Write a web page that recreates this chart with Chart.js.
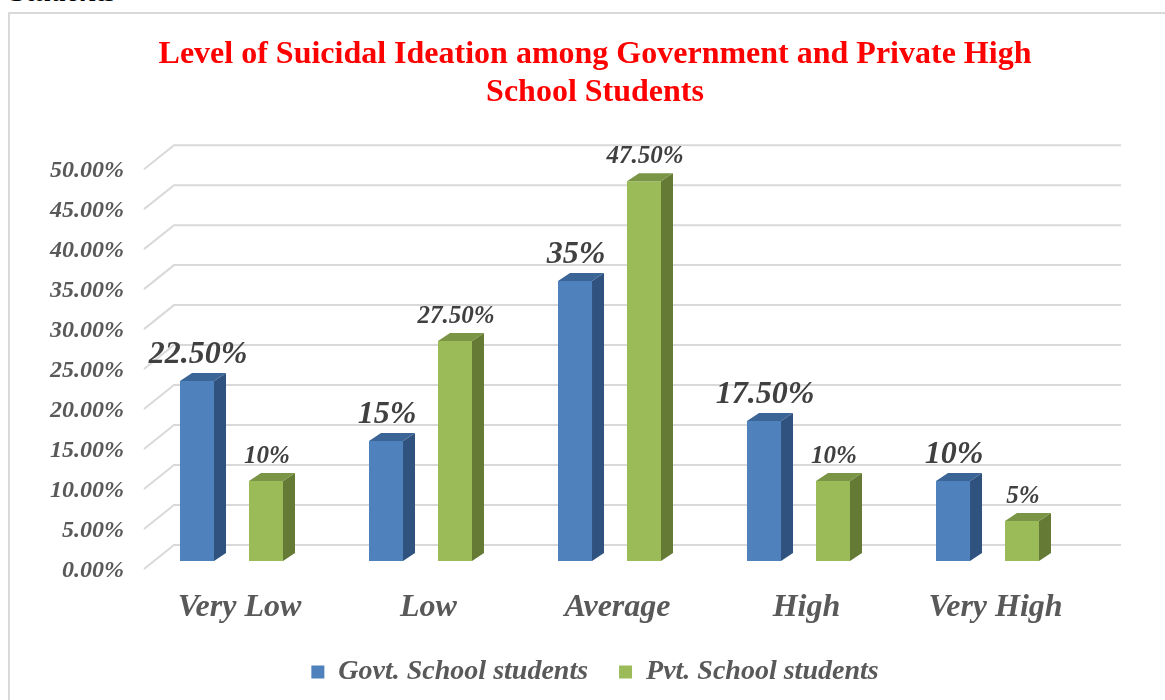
<!DOCTYPE html>
<html>
    <head>
        <meta charset="utf-8">
        <title>Level of Suicidal Ideation</title>
        <script src="https://cdn.jsdelivr.net/npm/chart.js@4.4.1/dist/chart.umd.min.js"></script>
        <style>
            body { margin: 0; background: #fff; overflow: hidden; }
            #wrap { position: relative; width: 1165px; height: 700px; overflow: hidden; }
            #frame { position: absolute; left: 8px; top: 12px; width: 1200px; height: 800px;
                     border-top: 2px solid #D9D9D9; border-left: 2px solid #D9D9D9; }
            #cut { position: absolute; left: 10px; top: -26px; font: italic bold 30px "Liberation Serif"; color: #000; }
            #canvas { position: absolute; left: 0; top: 0; }
        </style>
    </head>
    <body>
        <div id="wrap">
            <div id="cut">Students</div>
            <div id="frame"></div>
            <canvas id="canvas" width="1165" height="700"></canvas>
        </div>

<script>
// data
var levels = ['Very Low', 'Low', 'Average', 'High', 'Very High'];
var govtValues = [22.5, 15, 35, 17.5, 10];
var pvtValues = [10, 27.5, 47.5, 10, 5];
var govtLabels = ['22.50%', '15%', '35%', '17.50%', '10%'];
var pvtLabels = ['10%', '27.50%', '47.50%', '10%', '5%'];
var titleLines = ['Level of Suicidal Ideation among Government and Private High', 'School Students'];

var FONT = 'Liberation Serif';
var DX = 12, DY = 8;   // bar depth

// floor + back wall gridlines, drawn in fake 3d
var gridPlugin = {
    id: 'grid3d',
    beforeDatasetsDraw: function(chart) {
        var ctx = chart.ctx, ys = chart.scales.y, area = chart.chartArea;
        ctx.save();
        ctx.strokeStyle = '#D9D9D9';
        ctx.lineWidth = 2;
        ys.ticks.forEach(function(t) {
            var y = ys.getPixelForValue(t.value);
            ctx.beginPath();
            ctx.moveTo(area.left + 7, y + 8);
            ctx.lineTo(area.left + 37, y - 16);
            ctx.lineTo(area.right + 39, y - 16);
            ctx.stroke();
        });
        ctx.restore();
    }
};

var sides = ['#30527F', '#657A34'];
var tops = ['#3B6497', '#7A9545'];

var barPlugin = {
    id: 'bars3d',
    afterDatasetsDraw: function(chart) {
        var ctx = chart.ctx;
        ctx.save();
        chart.data.datasets.forEach(function(ds, di) {
            var meta = chart.getDatasetMeta(di);
            meta.data.forEach(function(bar, i) {
                var l = bar.x - bar.width / 2, r = bar.x + bar.width / 2;
                ctx.fillStyle = sides[di];
                ctx.beginPath();
                ctx.moveTo(r, bar.y);
                ctx.lineTo(r + DX, bar.y - DY);
                ctx.lineTo(r + DX, bar.base - DY);
                ctx.lineTo(r, bar.base);
                ctx.closePath();
                ctx.fill();
                ctx.fillStyle = tops[di];
                ctx.beginPath();
                ctx.moveTo(l, bar.y);
                ctx.lineTo(l + DX, bar.y - DY);
                ctx.lineTo(r + DX, bar.y - DY);
                ctx.lineTo(r, bar.y);
                ctx.closePath();
                ctx.fill();

                // value label
                var txt = di == 0 ? govtLabels[i] : pvtLabels[i];
                var size = di == 0 ? 32 : 25;
                ctx.fillStyle = '#404040';
                ctx.font = 'italic bold ' + size + 'px "' + FONT + '"';
                ctx.textAlign = 'center';
                ctx.textBaseline = 'alphabetic';
                ctx.fillText(txt, bar.x + 1, bar.y - 18);
            });
        });
        ctx.restore();
    }
};

var chartData = {
    labels: levels,
    datasets: [
        {
            label: 'Govt. School students',
            backgroundColor: '#4F81BD',
            borderWidth: 0,
            data: govtValues
        },
        {
            label: 'Pvt. School students',
            backgroundColor: '#9BBB59',
            borderWidth: 0,
            data: pvtValues
        }
    ]
};

var options = {
    responsive: false,
    animation: false,
    categoryPercentage: 0.73,
    barPercentage: 0.493,
    layout: { padding: { left: 40, right: 15, top: 36, bottom: 4 } },
    plugins: {
        tooltip: { enabled: false },
        title: {
            display: true,
            text: titleLines,
            color: '#FF0000',
            font: { family: FONT, size: 32, weight: 'bold', lineHeight: 1.19 },
            padding: { top: 0, bottom: 49 }
        },
        legend: {
            position: 'bottom',
            labels: {
                boxWidth: 13,
                boxHeight: 13,
                padding: 31,
                color: '#595959',
                font: { family: FONT, size: 28, style: 'italic', weight: 'bold' }
            }
        }
    },
    scales: {
        x: {
            grid: { display: false, drawTicks: false },
            border: { display: false },
            ticks: {
                color: '#595959',
                padding: 28,
                labelOffset: 8,
                font: { family: FONT, size: 32, style: 'italic', weight: 'bold' }
            },
            afterFit: function(scale) { scale.height = 66; }
        },
        y: {
            min: 0,
            max: 50,
            grid: { display: false, drawTicks: false },
            border: { display: false },
            ticks: {
                stepSize: 5,
                color: '#595959',
                padding: 13,
                labelOffset: 10,
                font: { family: FONT, size: 24, style: 'italic', weight: 'bold' },
                callback: function(v) { return v.toFixed(2) + '%'; }
            },
            afterFit: function(scale) { scale.width = 97; }
        },
        // empty right axis, only keeps the plot clear of the right side
        y2: {
            position: 'right',
            grid: { display: false, drawTicks: false },
            border: { display: false },
            ticks: { display: false },
            afterFit: function(scale) { scale.width = 68; }
        }
    }
};

window.onload = function() {
    var ctx = document.getElementById('canvas').getContext('2d');
    window.myBarChart = new Chart(ctx, {
        type: 'bar',
        data: chartData,
        options: options,
        plugins: [gridPlugin, barPlugin]
    });
};
</script>
    </body>
</html>
